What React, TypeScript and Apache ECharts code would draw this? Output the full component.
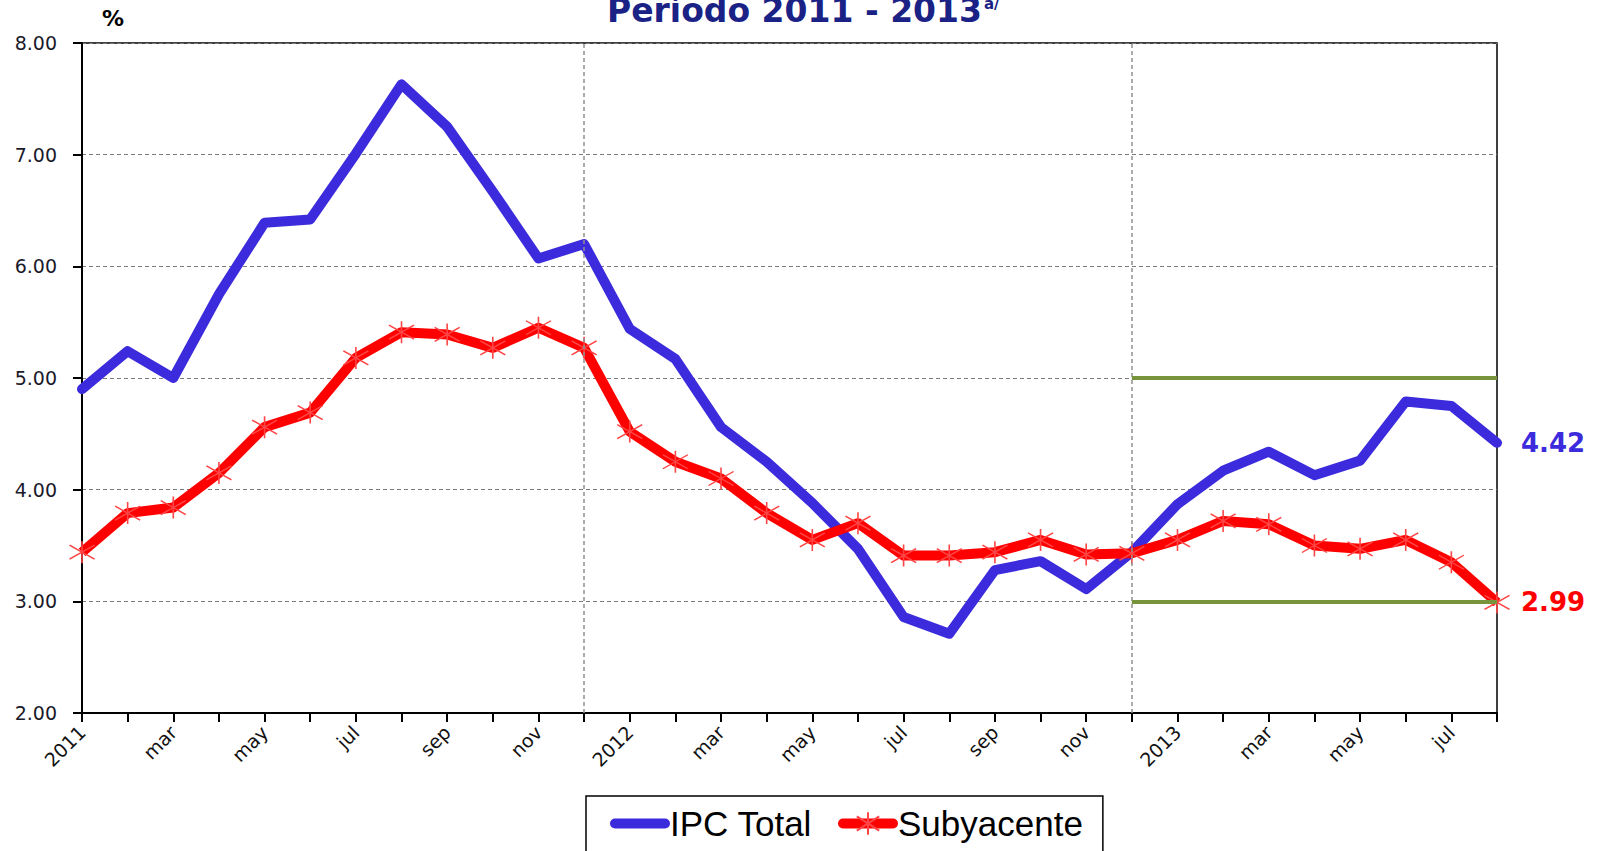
import React, { useEffect, useRef } from "react";
import * as echarts from "echarts";

const categories = [
  "2011", "feb", "mar", "abr", "may", "jun", "jul", "ago", "sep", "oct", "nov", "dic",
  "2012", "feb", "mar", "abr", "may", "jun", "jul", "ago", "sep", "oct", "nov", "dic",
  "2013", "feb", "mar", "abr", "may", "jun", "jul", "ago",
];

const ipcTotal = [
  4.90, 5.24, 5.00, 5.75, 6.39, 6.42, 7.01, 7.63, 7.25, 6.67, 6.07, 6.20,
  5.44, 5.17, 4.56, 4.25, 3.88, 3.47, 2.86, 2.71, 3.28, 3.36, 3.11, 3.44,
  3.87, 4.17, 4.34, 4.13, 4.26, 4.79, 4.75, 4.42,
];

const subyacente = [
  3.44, 3.79, 3.84, 4.15, 4.56, 4.69, 5.18, 5.41, 5.39, 5.27, 5.45, 5.27,
  4.52, 4.25, 4.10, 3.79, 3.55, 3.70, 3.41, 3.41, 3.44, 3.55, 3.42, 3.43,
  3.55, 3.72, 3.69, 3.50, 3.47, 3.55, 3.35, 2.99,
];

const yTicks = { min: 2, max: 8, interval: 1 };
const separatorIdx = [11, 23];
const targetRange = [3, 5];
const targetStartIdx = 23;

const BLUE = "#3C2BDC";
const RED = "#FF0000";
const GREEN = "#77933C";

export default function App() {
  const ref = useRef<HTMLDivElement>(null);
  useEffect(() => {
    if (!ref.current) return;
    const chart = echarts.init(ref.current, null, { renderer: "svg" });
    const lastIdx = categories.length - 1;
    const star = "path://M12,0 L12,22 M0,4 L24,18 M0,18 L24,4";
    const endLabel = (color: string) => ({
      show: true,
      distance: 24,
      formatter: (p: any) => Number(p.value).toFixed(2),
      color,
      fontSize: 26,
      fontWeight: "bold",
      fontFamily: "'DejaVu Sans'",
    });
    chart.setOption({
      animation: false,
      backgroundColor: "#fff",
      grid: {
        left: 82,
        right: 108,
        top: 43,
        bottom: 138,
        show: true,
        borderColor: "#000",
        borderWidth: 1.5,
      },
      graphic: [
        {
          type: "text",
          x: 982,
          y: 10,
          style: {
            text: "Período 2011 - 2013",
            fill: "#1B2285",
            font: "bold 33px 'DejaVu Sans'",
            textAlign: "right",
            textVerticalAlign: "middle",
          },
        },
        {
          type: "text",
          x: 984,
          y: 4,
          style: {
            text: "a/",
            fill: "#1B2285",
            font: "bold 15px 'DejaVu Sans'",
            textAlign: "left",
            textVerticalAlign: "middle",
          },
        },
        {
          type: "text",
          x: 113,
          y: 18,
          style: {
            text: "%",
            fill: "#000",
            font: "bold 22px 'DejaVu Sans'",
            textAlign: "center",
            textVerticalAlign: "middle",
          },
        },
      ],
      legend: {
        left: 586,
        top: 796,
        padding: [10, 20, 20, 24],
        borderColor: "#000",
        borderWidth: 1.5,
        itemWidth: 50,
        itemHeight: 28,
        itemGap: 26,
        lineStyle: { width: 10, cap: "round" },
        textStyle: { fontSize: 35, fontFamily: "'Liberation Sans'", color: "#000", lineHeight: 32 },
        data: [
          { name: "IPC Total", itemStyle: { color: "transparent", borderColor: "transparent", borderWidth: 0 } },
          { name: "Subyacente" },
        ],
      },
      xAxis: {
        type: "category",
        boundaryGap: false,
        data: categories,
        axisLine: { lineStyle: { color: "#000", width: 2 } },
        axisTick: { show: true, interval: 0, length: 9, lineStyle: { color: "#000", width: 2 } },
        axisLabel: {
          interval: 1,
          rotate: 45,
          fontSize: 19,
          fontFamily: "'DejaVu Sans'",
          color: "#111",
          margin: 16,
        },
        splitLine: { show: false },
      },
      yAxis: {
        type: "value",
        min: yTicks.min,
        max: yTicks.max,
        interval: yTicks.interval,
        axisLine: { show: true, lineStyle: { color: "#000", width: 2 } },
        axisTick: { show: true, length: 9, lineStyle: { color: "#000", width: 2 } },
        axisLabel: {
          formatter: (v: number) => v.toFixed(2),
          fontSize: 19,
          fontFamily: "'DejaVu Sans'",
          color: "#1a1a2a",
          margin: 25,
        },
        splitLine: { show: true, lineStyle: { color: "#7a7a7a", type: [4, 3], width: 1.2 } },
      },
      series: [
        {
          name: "IPC Total",
          type: "line",
          symbol: "none",
          z: 3,
          lineStyle: { color: BLUE, width: 10, cap: "round", join: "round" },
          itemStyle: { color: BLUE },
          endLabel: endLabel(BLUE),
          data: ipcTotal,
          markLine: {
            silent: true,
            symbol: "none",
            label: { show: false },
            lineStyle: { color: "#909090", type: [4, 3], width: 1.5 },
            data: separatorIdx.map((i) => ({ xAxis: i })),
          },
        },
        {
          name: "Subyacente",
          type: "line",
          symbol: star,
          symbolSize: [25, 22],
          showAllSymbol: true,
          z: 4,
          lineStyle: { color: RED, width: 10, join: "round" },
          itemStyle: { color: "transparent", borderColor: "#FF4545", borderWidth: 1.5 },
          endLabel: endLabel(RED),
          data: subyacente,
          markLine: {
            silent: true,
            symbol: "none",
            label: { show: false },
            lineStyle: { color: GREEN, type: "solid", width: 4 },
            data: targetRange.map((y) => [
              { coord: [targetStartIdx, y] },
              { coord: [lastIdx, y] },
            ]),
          },
        },
      ],
    });
    return () => chart.dispose();
  }, []);
  return (
    <div
      ref={ref}
      style={{ position: "fixed", left: 0, top: 0, width: 1605, height: 851, background: "#fff" }}
    />
  );
}
